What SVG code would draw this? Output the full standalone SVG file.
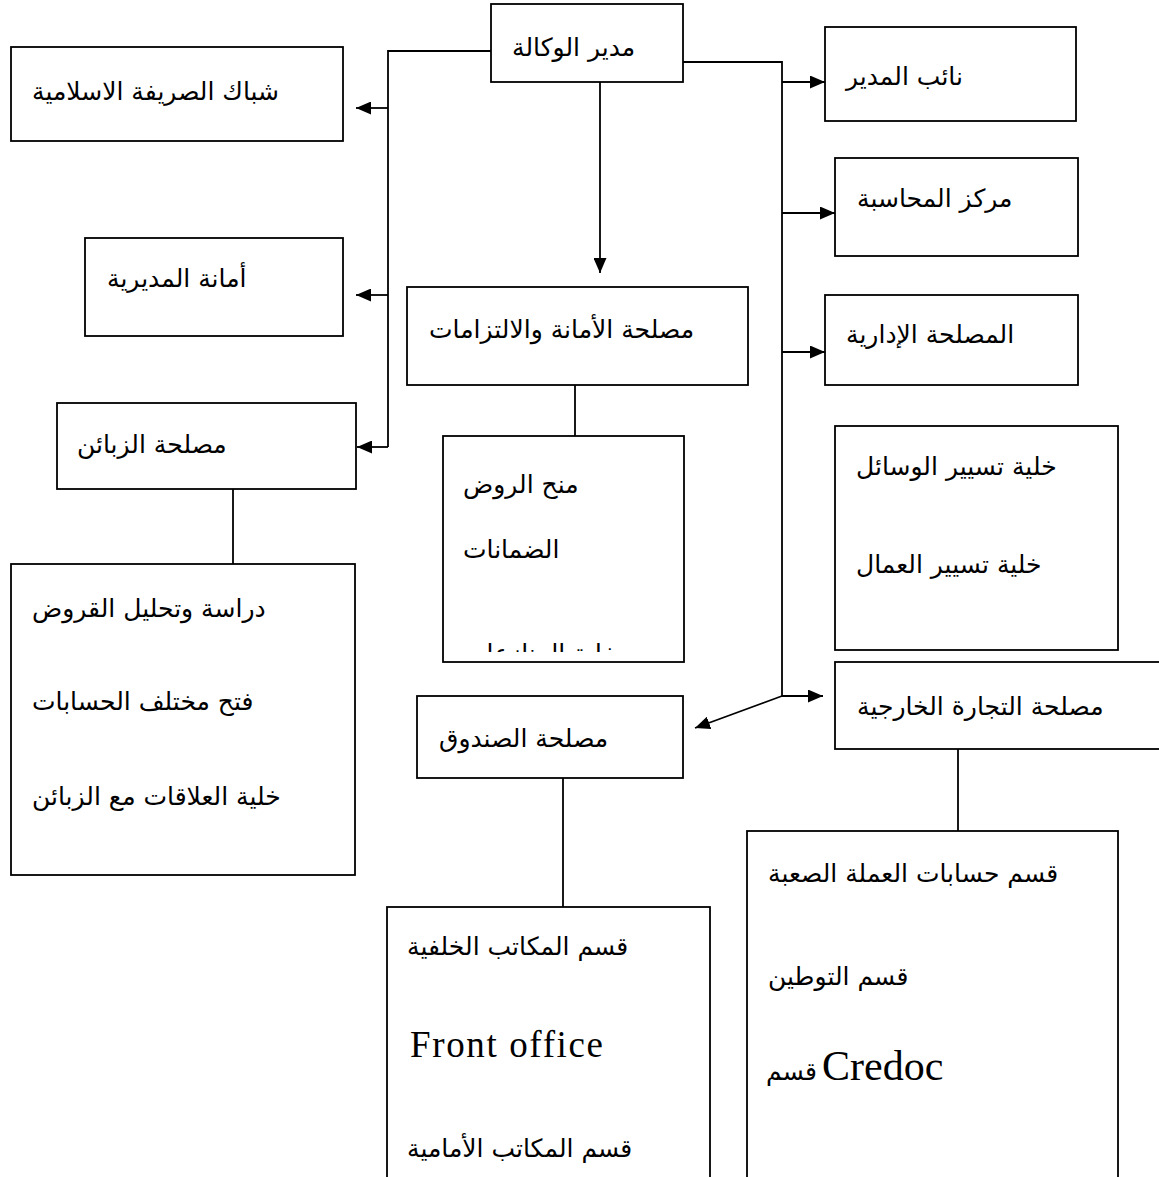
<svg xmlns="http://www.w3.org/2000/svg" width="1159" height="1177" viewBox="0 0 1159 1177">
<style>
.box{fill:#fff;stroke:#000;stroke-width:1.8}
.ln{fill:none;stroke:#000;stroke-width:1.8}
.ar{font-family:"DejaVu Sans",sans-serif;font-size:25px;fill:#000}
.lat{font-family:"Liberation Serif",serif;fill:#000}
</style>
<defs>
<marker id="ah" markerUnits="userSpaceOnUse" markerWidth="16" markerHeight="13" refX="15" refY="6.5" orient="auto"><path d="M0,0 L15,6.5 L0,13 z" fill="#000"/></marker>
<clipPath id="clipManh"><rect x="443" y="436" width="241" height="216"/></clipPath>
</defs>
<rect width="1159" height="1177" fill="#fff"/>
<g id="connectors">
<polyline class="ln" points="491,51 388,51 388,447"/>
<line class="ln" x1="388" y1="108" x2="356" y2="108" marker-end="url(#ah)"/>
<line class="ln" x1="388" y1="295" x2="356" y2="295" marker-end="url(#ah)"/>
<line class="ln" x1="388" y1="447" x2="357" y2="447" marker-end="url(#ah)"/>
<polyline class="ln" points="683,62 782,62 782,696"/>
<line class="ln" x1="782" y1="82" x2="825" y2="82" marker-end="url(#ah)"/>
<line class="ln" x1="782" y1="213" x2="835" y2="213" marker-end="url(#ah)"/>
<line class="ln" x1="782" y1="352" x2="825" y2="352" marker-end="url(#ah)"/>
<line class="ln" x1="782" y1="696" x2="823" y2="696" marker-end="url(#ah)"/>
<line class="ln" x1="782" y1="696" x2="695" y2="728" marker-end="url(#ah)"/>
<line class="ln" x1="600" y1="82" x2="600" y2="273" marker-end="url(#ah)"/>
<line class="ln" x1="575" y1="385" x2="575" y2="436"/>
<line class="ln" x1="233" y1="489" x2="233" y2="564"/>
<line class="ln" x1="563" y1="778" x2="563" y2="907"/>
<line class="ln" x1="958" y1="749" x2="958" y2="831"/>
</g>
<g id="director"><rect class="box" x="491" y="4" width="192" height="78"/><text class="ar" x="512" y="56">مدير الوكالة</text></g>
<g id="shubbak"><rect class="box" x="11" y="47" width="332" height="94"/><text class="ar" x="32" y="100">شباك الصريفة الاسلامية</text></g>
<g id="amana-mudiriya"><rect class="box" x="85" y="238" width="258" height="98"/><text class="ar" x="107" y="287">أمانة المديرية</text></g>
<g id="zabaen"><rect class="box" x="57" y="403" width="299" height="86"/><text class="ar" x="77" y="453">مصلحة الزبائن</text></g>
<g id="zabaen-sub"><rect class="box" x="11" y="564" width="344" height="311"/>
<text class="ar" x="32" y="617">دراسة وتحليل القروض</text>
<text class="ar" x="32" y="710">فتح مختلف الحسابات</text>
<text class="ar" x="32" y="805">خلية العلاقات مع الزبائن</text></g>
<g id="naib"><rect class="box" x="825" y="27" width="251" height="94"/><text class="ar" x="846" y="85">نائب المدير</text></g>
<g id="markaz"><rect class="box" x="835" y="158" width="243" height="98"/><text class="ar" x="857" y="207">مركز المحاسبة</text></g>
<g id="idariya"><rect class="box" x="825" y="295" width="253" height="90"/><text class="ar" x="846" y="343">المصلحة الإدارية</text></g>
<g id="amana-iltizamat"><rect class="box" x="407" y="287" width="341" height="98"/><text class="ar" x="429" y="338">مصلحة الأمانة والالتزامات</text></g>
<g id="manh"><rect class="box" x="443" y="436" width="241" height="226"/>
<g clip-path="url(#clipManh)">
<text class="ar" x="463" y="493">منح الروض</text>
<text class="ar" x="463" y="558">الضمانات</text>
<text class="ar" x="463" y="662">خلية المنازعات</text></g></g>
<g id="taysir"><rect class="box" x="835" y="426" width="283" height="224"/>
<text class="ar" x="856" y="475">خلية تسيير الوسائل</text>
<text class="ar" x="856" y="573">خلية تسيير العمال</text></g>
<g id="tijara"><rect class="box" x="835" y="662" width="330" height="87"/><text class="ar" x="857" y="715">مصلحة التجارة الخارجية</text></g>
<g id="sunduq"><rect class="box" x="417" y="696" width="266" height="82"/><text class="ar" x="439" y="747">مصلحة الصندوق</text></g>
<g id="sunduq-sub"><rect class="box" x="387" y="907" width="323" height="290"/>
<text class="ar" x="407" y="955">قسم المكاتب الخلفية</text>
<text class="lat" x="410" y="1057" font-size="37" textLength="193" lengthAdjust="spacing">Front office</text>
<text class="ar" x="407" y="1157">قسم المكاتب الأمامية</text></g>
<g id="tijara-sub"><rect class="box" x="747" y="831" width="371" height="366"/>
<text class="ar" x="768" y="882">قسم حسابات العملة الصعبة</text>
<text class="ar" x="768" y="985">قسم التوطين</text>
<text x="766" y="1080"><tspan class="ar" x="766">قسم</tspan><tspan class="lat" x="822" font-size="42">Credoc</tspan></text></g>
</svg>
